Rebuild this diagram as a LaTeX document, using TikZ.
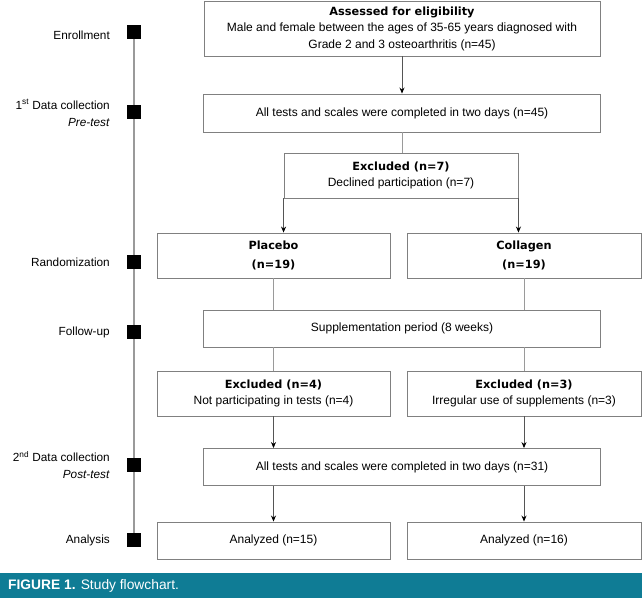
\documentclass[tikz,border=0pt]{standalone}
\usepackage{fontspec}
\setmainfont{Liberation Sans}
\newfontfamily\heavyfont{DejaVu Sans}[BoldFont={DejaVu Sans Bold}]
\usetikzlibrary{arrows.meta}
\definecolor{boxgray}{HTML}{808080}
\definecolor{linegray}{HTML}{9A9A9A}
\definecolor{arrgray}{HTML}{555555}
\definecolor{capteal}{HTML}{0F7C95}
\newcommand{\ttlx}[1]{{\heavyfont\fontsize{11.3}{16}\selectfont\bfseries #1}}
\tikzset{
  box/.style={draw=boxgray, line width=0.9pt, fill=white, align=center, inner sep=2pt, font=\fontsize{12}{16.5}\selectfont},
  plain/.style={draw=linegray, line width=0.9pt},
  arr/.style={draw=arrgray, line width=0.8pt, -{Stealth[length=6pt,width=5pt,black]}},
  mark sq/.style={fill=black, minimum size=14pt, inner sep=0pt},
  lab/.style={anchor=east, align=right, font=\fontsize{11.8}{17}\selectfont, inner sep=0pt}
}
\begin{document}
\begin{tikzpicture}[x=1pt,y=-1pt]
\useasboundingbox (0,0) rectangle (642,598);
% timeline
\coordinate (t0) at (134,32);
\coordinate (t5) at (134,540);
\draw[linegray, line width=1.2pt] (t0) -- (t5);
\node[mark sq] (s1) at (134,32) {};
\node[mark sq] (s2) at (134,112) {};
\node[mark sq] (s3) at (134,262) {};
\node[mark sq] (s4) at (134,332) {};
\node[mark sq] (s5) at (134,465) {};
\node[mark sq] (s6) at (134,540) {};
\node[lab] (l1) at (110,35) {Enrollment};
\node[lab] (l2) at (110,113) {1\textsuperscript{st} Data collection\\\textit{Pre-test}};
\node[lab] (l3) at (110,262) {Randomization};
\node[lab] (l4) at (110,332) {Follow-up};
\node[lab] (l5) at (110,465) {2\textsuperscript{nd} Data collection\\\textit{Post-test}};
\node[lab] (l6) at (110,540) {Analysis};
% boxes
\node[box, minimum width=396pt, minimum height=55pt] (b1) at (402,28.5)
  {\ttlx{Assessed for eligibility}\\Male and female between the ages of 35-65 years diagnosed with\\Grade 2 and 3 osteoarthritis (n=45)};
\node[box, minimum width=397pt, minimum height=38pt] (b2) at (402,113)
  {All tests and scales were completed in two days (n=45)};
\node[box, minimum width=234pt, minimum height=45pt] (ex7) at (401,175.5)
  {\ttlx{Excluded (n=7)}\\Declined participation (n=7)};
\node[box, minimum width=233pt, minimum height=45pt] (pla) at (273.5,255.5)
  {\ttlx{Placebo}\\[2pt]\ttlx{(n=19)}};
\node[box, minimum width=234pt, minimum height=45pt] (col) at (524,255.5)
  {\ttlx{Collagen}\\[2pt]\ttlx{(n=19)}};
\node[box, minimum width=397pt, minimum height=37pt] (sup) at (402,328.5)
  {Supplementation period (8 weeks)};
\node[box, minimum width=233pt, minimum height=45pt] (ex4) at (273.5,393.5)
  {\ttlx{Excluded (n=4)}\\Not participating in tests (n=4)};
\node[box, minimum width=234pt, minimum height=45pt] (ex3) at (524,393.5)
  {\ttlx{Excluded (n=3)}\\Irregular use of supplements (n=3)};
\node[box, minimum width=397pt, minimum height=37pt] (post) at (402,467)
  {All tests and scales were completed in two days (n=31)};
\node[box, minimum width=233pt, minimum height=37pt] (an1) at (273.5,540.5)
  {Analyzed (n=15)};
\node[box, minimum width=234pt, minimum height=37pt] (an2) at (524,540.5)
  {Analyzed (n=16)};
% connectors
\draw[arr] (b1.south) -- (b2.north);
\draw[plain] (b2.south) -- (b2.south |- ex7.north);
\draw[arr] (ex7.south west) -- (ex7.south west |- pla.north);
\draw[arr] (ex7.south east) -- (ex7.south east |- col.north);
\draw[plain] (pla.south) -- (pla.south |- sup.north);
\draw[plain] (col.south) -- (col.south |- sup.north);
\draw[plain] (pla.south |- sup.south) -- (ex4.north);
\draw[plain] (col.south |- sup.south) -- (ex3.north);
\draw[arr] (ex4.south) -- (ex4.south |- post.north);
\draw[arr] (ex3.south) -- (ex3.south |- post.north);
\draw[arr] (an1.north |- post.south) -- (an1.north);
\draw[arr] (an2.north |- post.south) -- (an2.north);
% caption
\fill[capteal] (0,573) rectangle (642,598);
\node[anchor=west, text=white, inner sep=0pt, font=\fontsize{13.8}{15}\selectfont] (cap) at (8,585.5)
  {\textbf{FIGURE 1.} Study flowchart.};
\end{tikzpicture}
\end{document}
